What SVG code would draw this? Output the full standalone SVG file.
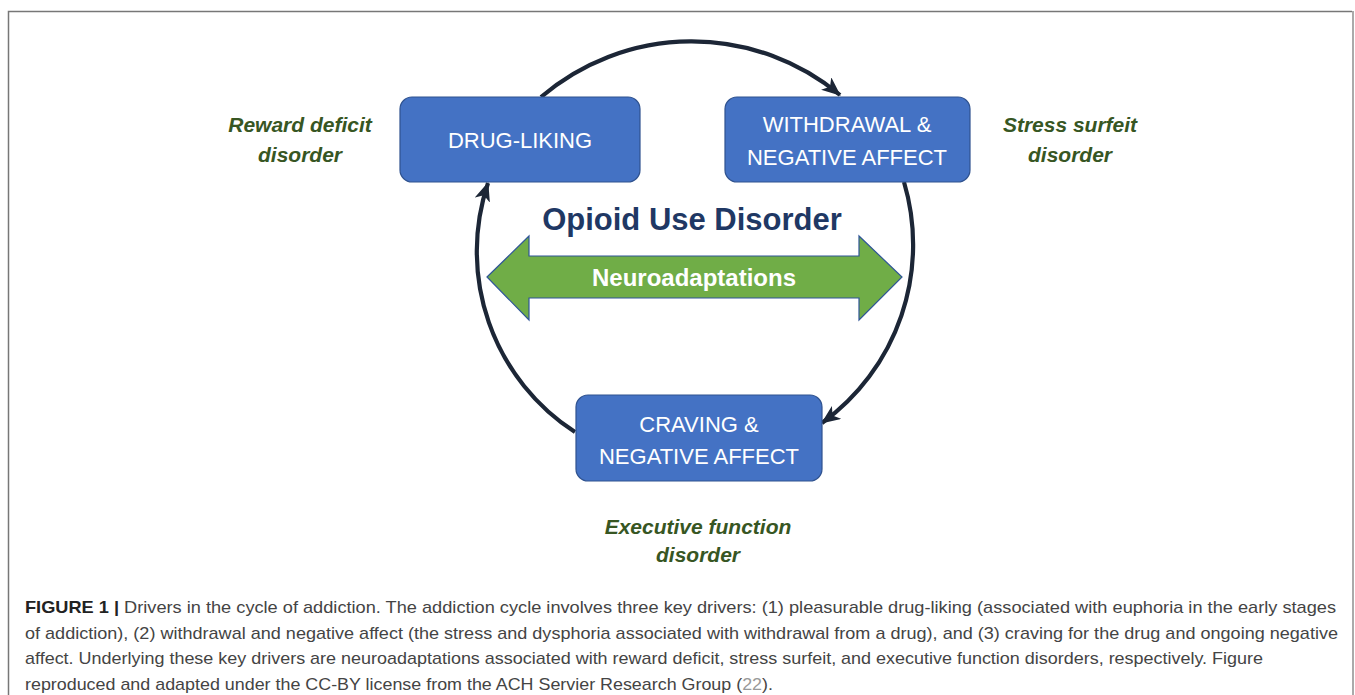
<svg xmlns="http://www.w3.org/2000/svg" width="1355" height="695" viewBox="0 0 1355 695">
<style>
.box{fill:#4472C4;stroke:#2F528F;stroke-width:1.2}
.bt{font-family:"Liberation Sans",Arial,sans-serif;font-size:22px;fill:#fff;text-anchor:middle}
.lab{font-family:"Liberation Sans",Arial,sans-serif;font-size:21px;font-weight:bold;font-style:italic;fill:#375623;text-anchor:middle}
.arc{fill:none;stroke:#1C2636;stroke-width:4.2;marker-end:url(#ah)}
.cap{font-family:"Liberation Sans",Arial,sans-serif;font-size:17px;fill:#444}
</style>
<defs>
<marker id="ah" markerUnits="userSpaceOnUse" viewBox="0 0 19 16" refX="18" refY="8" markerWidth="19" markerHeight="16" orient="auto">
<path d="M0,0 L19,8 L0,16 L5,8 z" fill="#1C2636"/>
</marker>
</defs>
<rect width="1355" height="695" fill="#fff"/>
<g id="frame">
<path d="M8.5,700 V11.5 H1352" fill="none" stroke="#777" stroke-width="1.5"/>
<path d="M1353,11 V700" fill="none" stroke="#aaa" stroke-width="2"/>
</g>
<g id="connectors">
<path class="arc" d="M541,97 A232,232 0 0 1 840,95"/>
<path class="arc" d="M904,182 A220,220 0 0 1 822,423"/>
<path class="arc" d="M575,432 A215,215 0 0 1 488,183"/>
</g>
<g id="drug-liking">
<rect class="box" x="400" y="97" width="240" height="85" rx="12"/>
<text class="bt" x="520" y="148">DRUG-LIKING</text>
</g>
<g id="withdrawal">
<rect class="box" x="725" y="97" width="245" height="85" rx="12"/>
<text class="bt" x="847" y="132">WITHDRAWAL &amp;</text>
<text class="bt" x="847" y="165">NEGATIVE AFFECT</text>
</g>
<g id="craving">
<rect class="box" x="576" y="395" width="246" height="86" rx="12"/>
<text class="bt" x="699" y="432">CRAVING &amp;</text>
<text class="bt" x="699" y="464">NEGATIVE AFFECT</text>
</g>
<g id="title">
<text x="692" y="230" font-family="Liberation Sans,Arial,sans-serif" font-size="31" font-weight="bold" fill="#1F3864" text-anchor="middle">Opioid Use Disorder</text>
</g>
<g id="neuroadaptations">
<polygon points="487,277 529,236 529,256 859,256 859,236 902,277 859,320 859,298 529,298 529,320" fill="#70AD47" stroke="#2F5597" stroke-width="1.2"/>
<text x="694" y="286" font-family="Liberation Sans,Arial,sans-serif" font-size="24" font-weight="bold" fill="#fff" text-anchor="middle">Neuroadaptations</text>
</g>
<g id="reward-label">
<text class="lab" x="300" y="132">Reward deficit</text>
<text class="lab" x="300" y="162">disorder</text>
</g>
<g id="stress-label">
<text class="lab" x="1070" y="132">Stress surfeit</text>
<text class="lab" x="1070" y="162">disorder</text>
</g>
<g id="executive-label">
<text class="lab" x="698" y="534">Executive function</text>
<text class="lab" x="698" y="562">disorder</text>
</g>
<g id="caption">
<text class="cap" x="25" y="613" textLength="1311" lengthAdjust="spacingAndGlyphs"><tspan font-weight="bold" fill="#222">FIGURE 1 |</tspan> Drivers in the cycle of addiction. The addiction cycle involves three key drivers: (1) pleasurable drug-liking (associated with euphoria in the early stages</text>
<text class="cap" x="25" y="639" textLength="1313" lengthAdjust="spacingAndGlyphs">of addiction), (2) withdrawal and negative affect (the stress and dysphoria associated with withdrawal from a drug), and (3) craving for the drug and ongoing negative</text>
<text class="cap" x="25" y="664" textLength="1238" lengthAdjust="spacingAndGlyphs">affect. Underlying these key drivers are neuroadaptations associated with reward deficit, stress surfeit, and executive function disorders, respectively. Figure</text>
<text class="cap" x="25" y="690" textLength="748" lengthAdjust="spacingAndGlyphs">reproduced and adapted under the CC-BY license from the ACH Servier Research Group (<tspan fill="#999">22</tspan>).</text>
</g>
</svg>
